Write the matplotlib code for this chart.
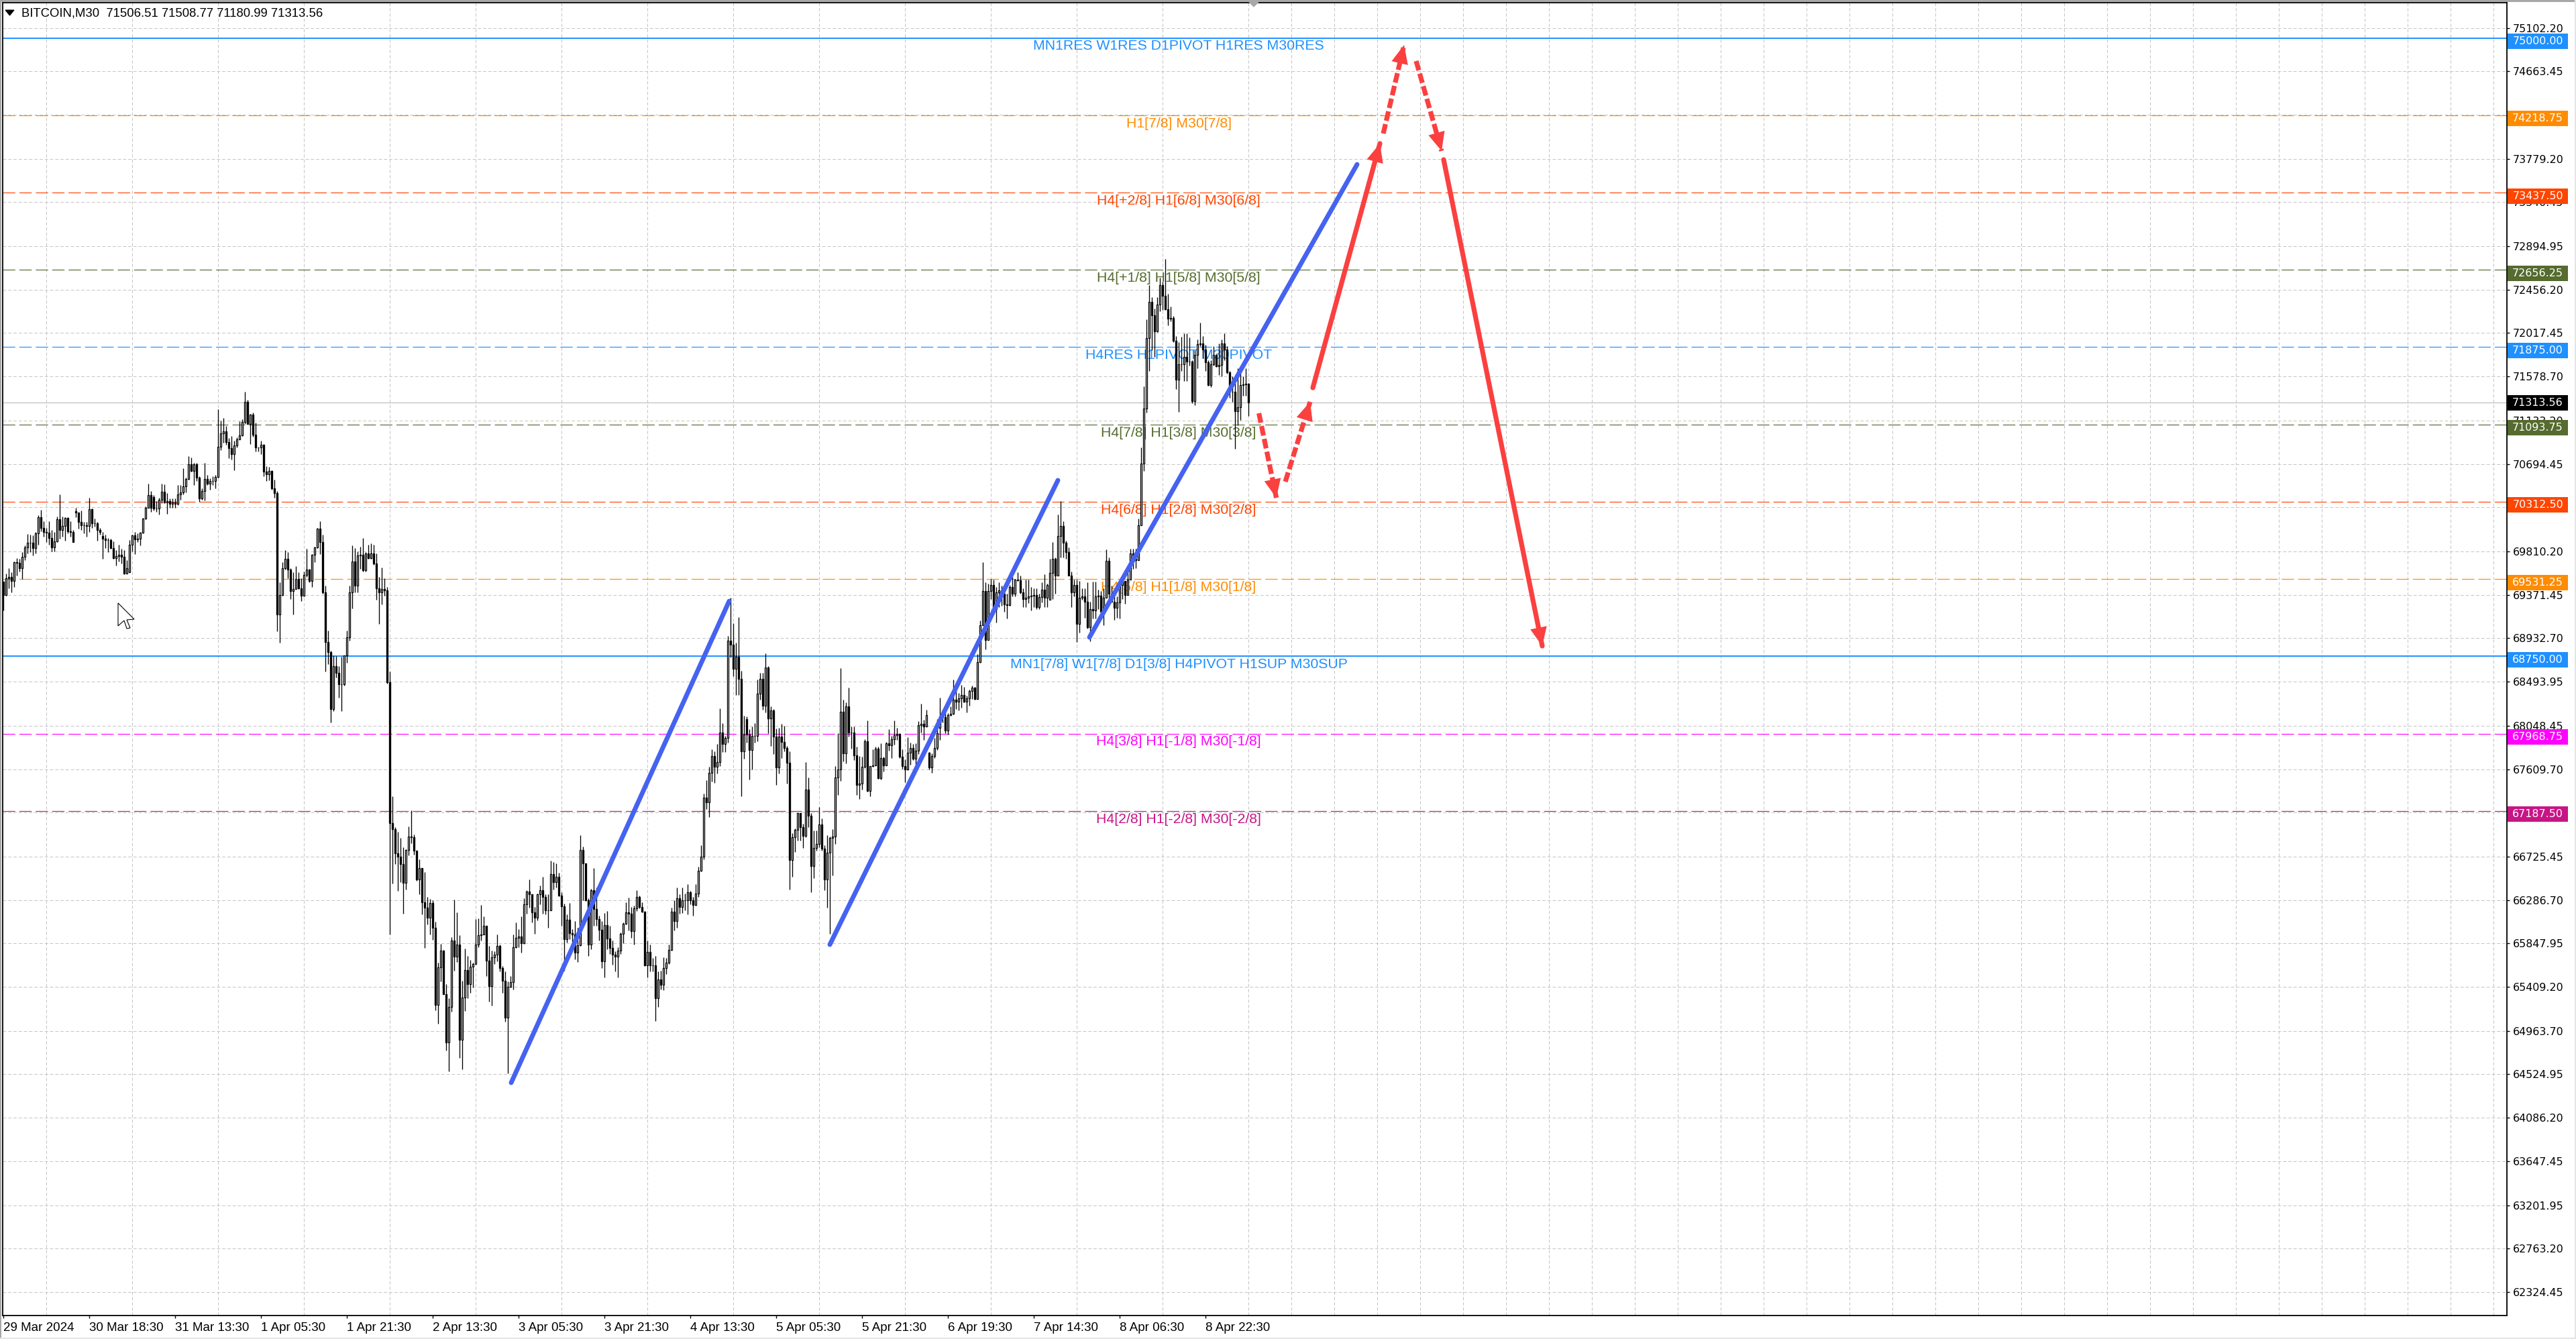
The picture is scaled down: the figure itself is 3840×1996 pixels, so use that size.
"""BITCOIN M30 candle chart with Murrey levels and hand drawn trend lines."""

import numpy as np
import matplotlib
matplotlib.use("Agg")
import matplotlib.pyplot as plt
from matplotlib.patches import Polygon, Rectangle

WIDTH, HEIGHT = 3840, 1996

highs = [
    69507,69586,69638,69598,69711,69745,69733,69801,69869,69986,
    69977,69971,70004,70174,70231,70118,70050,70113,70027,70004,
    70163,70384,70163,70158,70158,70118,70027,70253,70203,70224,
    70106,70106,70355,70242,70140,70106,70045,70004,69977,69948,
    69937,69914,69824,69880,69835,69824,69722,69925,69977,70004,
    69993,70004,70151,70264,70495,70423,70377,70321,70355,70495,
    70490,70400,70348,70348,70348,70479,70479,70649,70558,70773,
    70762,70705,70705,70569,70445,70705,70581,70551,70569,70581,
    71247,71134,71162,71078,70954,70976,70931,70965,71123,71146,
    71424,71342,71202,71214,71112,70863,70926,70897,70671,70664,
    70633,70536,70423,69496,69699,69824,69801,69643,69598,69661,
    69598,69541,69609,69835,69632,69783,69858,70050,70113,69977,
    69462,69010,68807,68762,68750,68649,68743,68762,69010,69462,
    69869,69846,69812,69858,69948,69801,69880,69892,69880,69790,
    69553,69647,69541,69451,68599,67333,67021,66976,66913,66822,
    66802,67028,67190,66949,66784,66698,66607,66569,66320,66298,
    66287,66067,65654,65841,65783,65434,65292,65914,66293,66162,
    65932,65473,65796,65721,65681,65654,66094,66099,66237,66124,
    66027,65823,65778,65767,65936,65835,65620,65563,65462,65518,
    65936,66061,65993,66121,66302,66388,66497,66343,66219,66354,
    66433,66524,66343,66343,66686,66671,66659,66562,66366,66253,
    66140,66257,65993,66072,66004,66942,66824,66659,66302,66399,
    66607,66415,66128,66072,66158,66178,66027,65880,65767,65812,
    65959,66061,66264,66309,66219,66230,66388,66332,66264,66174,
    65880,65835,65699,65721,65563,65575,65710,65699,65835,66207,
    66287,66411,66343,66411,66354,66445,66377,66320,66445,66625,
    66840,67360,67496,67631,67807,67789,67862,68223,68072,67948,
    68953,69342,69082,68886,69145,68603,68151,68140,68015,68038,
    68072,68513,68580,68580,68779,68648,68246,68219,68020,68027,
    68065,68049,67846,67789,66964,67010,67168,67168,67055,67681,
    67523,67168,66987,66987,67224,67111,66840,66942,66931,67003,
    67642,67970,68630,68309,68287,68433,68043,68038,67835,67744,
    67733,67914,68101,67642,67812,67835,67835,67868,67733,67884,
    68015,67948,68101,68027,67970,67812,67710,67929,67875,67862,
    67868,68094,68268,68106,68207,67785,67767,67925,68117,68332,
    68207,68174,68178,68241,68513,68456,68377,68463,68440,68354,
    68411,68456,68440,68772,69112,69699,69497,69483,69530,69525,
    69454,69497,69463,69454,69384,69468,69553,69530,69603,69567,
    69440,69525,69525,69454,69440,69440,69384,69497,69581,69483,
    69736,69904,69750,70185,70318,70115,69918,69848,69609,69525,
    69525,69511,69440,69440,69497,69300,69502,69502,69426,69412,
    69440,69828,69750,69463,69356,69356,69497,69525,69483,69623,
    69834,69834,69834,70143,70860,71478,72153,72504,72378,72266,
    72378,72575,72533,72766,72414,72285,72190,71984,71928,71979,
    72012,72012,71970,71745,71844,71956,72125,71984,71900,71745,
    71745,71886,71802,71914,71956,72012,71886,71633,71577,71521,
    71661,71619,71577,71661,71508.77,
]
lows = [
    69213,69360,69440,69399,69451,69564,69609,69530,69722,69790,
    69801,69772,69790,69876,70016,69959,69903,69880,69812,69812,
    69903,69937,69959,69919,69993,69959,69903,70158,70043,70027,
    69993,69959,70004,70050,70061,69919,69982,69738,69846,69801,
    69835,69733,69670,69711,69688,69580,69593,69598,69812,69785,
    69903,69873,69993,70136,70253,70208,70224,70212,70181,70298,
    70298,70192,70253,70253,70249,70280,70332,70389,70407,70536,
    70619,70479,70524,70310,70332,70325,70479,70434,70479,70445,
    70558,70836,70908,70886,70755,70739,70633,70863,70942,70976,
    71101,71096,70897,70972,70823,70818,70791,70570,70524,70529,
    70434,70355,69006,68886,69360,69625,69541,69327,69173,69428,
    69428,69308,69354,69553,69496,69451,69699,69846,69785,69383,
    68599,68671,68084,68196,68536,68332,68196,68456,68682,68908,
    69236,69394,69399,69632,69609,69609,69733,69733,69677,69320,
    69078,69277,69360,68472,65936,66456,66648,66381,66467,66151,
    66395,66739,66863,66745,66479,66343,66144,65801,66038,65936,
    65884,65172,65039,65462,65337,64768,64558,65157,65575,65658,
    64689,64576,65163,65292,65349,65405,65642,65812,65880,65936,
    65518,65258,65218,65642,65665,65563,65349,65059,64535,65405,
    65383,65801,65812,65755,65841,66151,66207,66061,65947,66083,
    66241,66151,66144,66008,66180,66393,66411,66325,66027,65575,
    65857,65891,65789,65688,65658,65823,66286,66275,65721,65789,
    66027,66027,65880,65602,65507,65789,65744,65631,65563,65502,
    65744,65850,66038,65981,65907,65839,66174,66203,66162,65620,
    65507,65563,65563,65066,65208,65383,65376,65541,65642,65773,
    65977,66008,66151,66158,66185,66144,66241,66128,66230,66316,
    66573,66700,67206,67123,67484,67468,67563,67643,67785,67785,
    67880,68739,68547,68359,68359,67333,67715,67880,67507,67609,
    67880,67891,68309,68207,68185,67970,67846,67762,67450,67563,
    67722,67789,67466,66393,66524,66772,66885,66885,66813,66919,
    67021,66366,66506,66784,66818,66784,66388,66207,65947,66535,
    66856,67349,67491,67688,67665,67936,67817,67699,67349,67310,
    67405,67620,67383,67333,67631,67665,67514,67507,67586,67649,
    67794,67722,67857,67902,67722,67613,67480,67597,67654,67699,
    67642,67762,67981,67907,68043,67604,67575,67722,67801,67907,
    68083,67970,67959,68151,68162,68219,68201,68230,68287,68185,
    68253,68320,68309,68320,68682,69061,68822,68912,69328,69187,
    69089,69244,69258,69201,69131,69258,69356,69356,69511,69384,
    69244,69244,69286,69216,69244,69230,69230,69294,69244,69244,
    69322,69328,69384,69567,69750,69750,69736,69567,69244,69356,
    68892,68991,69322,69137,69033,68901,69131,69131,69230,69201,
    69061,69342,69342,69300,69117,69137,69131,69328,69278,69370,
    69525,69637,69643,69792,70073,70627,71211,71633,71844,71774,
    72027,72237,72251,72251,72097,72139,71928,71450,71217,71633,
    71535,71535,71689,71310,71290,71661,71886,71760,71633,71484,
    71470,71689,71675,71591,71577,71745,71605,71366,71324,70846,
    71085,71141,71386,71380,71180.99,
]
closes = [
    69372,69541,69552,69512,69699,69693,69643,69756,69851,69896,
    69901,69846,69993,70158,70045,70004,70000,69948,69851,69914,
    70136,70027,70068,70149,70016,70004,69903,70201,70106,70077,
    70072,70070,70237,70095,70097,70027,70009,69941,69925,69925,
    69842,69745,69765,69779,69756,69586,69638,69880,69971,69930,
    69941,69998,70140,70253,70377,70253,70242,70242,70332,70411,
    70303,70321,70294,70305,70294,70384,70407,70468,70542,70689,
    70626,70689,70558,70348,70418,70542,70497,70524,70524,70565,
    70870,71003,71022,70913,70852,70795,70879,70942,70981,71116,
    71322,71101,71191,70988,70863,70859,70886,70619,70592,70626,
    70445,70400,69175,69367,69638,69733,69625,69412,69428,69530,
    69440,69360,69571,69625,69512,69779,69851,70043,69903,69394,
    68893,68795,68219,68653,68581,68468,68468,68762,68942,69394,
    69711,69462,69772,69779,69620,69790,69745,69790,69688,69440,
    69394,69428,69417,68490,67062,67005,66761,66727,66648,66463,
    66795,66926,66919,66788,66497,66607,66264,66212,66106,66259,
    66004,65224,65609,65778,65337,64845,65206,65875,65717,65835,
    64874,65299,65581,65439,65615,65642,65835,65929,65941,66027,
    65676,65416,65706,65733,65823,65602,65473,65100,65410,65457,
    65807,65902,65918,65853,66241,66372,66347,66162,66110,66343,
    66388,66320,66180,66185,66546,66467,66519,66332,66225,65891,
    66090,65954,65936,65755,65828,66790,66655,66286,65835,66388,
    66196,66094,65988,65669,66031,65896,65805,65737,65715,65778,
    65948,66045,66162,66151,65975,66203,66316,66214,66167,65627,
    65760,65624,65624,65297,65484,65428,65597,65654,65783,66167,
    66076,66302,66219,66286,66284,66366,66286,66239,66350,66580,
    66727,67319,67274,67570,67744,67636,67681,67977,67866,67925,
    68908,68870,68626,68745,68524,67789,67959,67959,67805,67948,
    67948,68370,68524,68253,68637,68124,68201,67936,67624,67936,
    67887,67823,67672,66693,66919,66998,67163,67025,66935,67401,
    67141,66632,66811,66856,67048,66806,66497,66766,66913,66931,
    67523,67604,68187,67771,68241,67981,67981,67749,67450,67466,
    67631,67891,67392,67638,67649,67817,67518,67722,67649,67868,
    67853,67909,67952,67966,67737,67642,67609,67774,67823,67715,
    67796,68054,68065,68043,68155,67624,67744,67823,67970,68140,
    68135,67997,68158,68169,68314,68293,68323,68359,68293,68325,
    68400,68433,68320,68689,69066,69412,68912,69412,69469,69230,
    69398,69418,69384,69272,69266,69454,69384,69525,69516,69398,
    69328,69342,69356,69362,69370,69244,69348,69426,69342,69468,
    69595,69736,69567,69969,70065,69896,69806,69567,69398,69468,
    69075,69342,69356,69300,69047,69230,69216,69356,69365,69201,
    69342,69713,69384,69300,69238,69294,69468,69511,69370,69525,
    69792,69736,69722,70073,70700,71254,71965,72330,72195,72032,
    72308,72504,72392,72257,72161,72167,71937,71549,71703,71703,
    71774,71731,71731,71332,71796,71908,71914,71852,71723,71492,
    71703,71796,71684,71698,71914,71852,71619,71422,71425,71225,
    71268,71492,71498,71504,71313.56,
]
# opens follow the previous close except where the chart shows a gap
first_open = 69507
open_gaps = {27: 70215, 37: 69964, 47: 69598, 56: 70362, 277: 68113,
             345: 67778, 349: 68027, 390: 69322, 464: 71506.51}

price_ticks = [
    75102.20, 74663.45, 74224.70, 73779.20, 73340.45, 72894.95, 72456.20,
    72017.45, 71578.70, 71133.20, 70694.45, 70255.70, 69810.20, 69371.45,
    68932.70, 68493.95, 68048.45, 67609.70, 67170.95, 66725.45, 66286.70,
    65847.95, 65409.20, 64963.70, 64524.95, 64086.20, 63647.45, 63201.95,
    62763.20, 62324.45,
]
time_labels = [
    "29 Mar 2024", "30 Mar 18:30", "31 Mar 13:30", "1 Apr 05:30", "1 Apr 21:30",
    "2 Apr 13:30", "3 Apr 05:30", "3 Apr 21:30", "4 Apr 13:30", "5 Apr 05:30",
    "5 Apr 21:30", "6 Apr 19:30", "7 Apr 14:30", "8 Apr 06:30", "8 Apr 22:30",
]

level_prices = [75000.00, 74218.75, 73437.50, 72656.25, 71875.00, 71093.75,
                70312.50, 69531.25, 68750.00, 67968.75, 67187.50]
level_colors = ["#1e90ff", "#ff8c00", "#ff4500", "#556b2f", "#1e90ff", "#556b2f",
                "#ff4500", "#ff8c00", "#1e90ff", "#ff00ff", "#c71585"]
level_texts = [
    "MN1RES W1RES D1PIVOT H1RES M30RES",
    "H1[7/8] M30[7/8]",
    "H4[+2/8] H1[6/8] M30[6/8]",
    "H4[+1/8] H1[5/8] M30[5/8]",
    "H4RES H1PIVOT M30PIVOT",
    "H4[7/8] H1[3/8] M30[3/8]",
    "H4[6/8] H1[2/8] M30[2/8]",
    "H4[5/8] H1[1/8] M30[1/8]",
    "MN1[7/8] W1[7/8] D1[3/8] H4PIVOT H1SUP M30SUP",
    "H4[3/8] H1[-1/8] M30[-1/8]",
    "H4[2/8] H1[-2/8] M30[-2/8]",
]
solid_levels = [75000.00, 68750.00]
last_price = 71313.56

# (bar, price) end points of the drawn objects
trend_lines = [
    ((189.25, 64440), (270.5, 69308)),
    ((308.0, 65836), (393.0, 70529)),
    ((404.75, 68942), (504.5, 73722)),
]
arrows = [
    ((467.9, 71207), (474.4, 70352), True),
    ((477.75, 70515), (487.0, 71322), True),
    ((488.0, 71464), (513.0, 73933), False),
    ((514.25, 74034), (522.0, 74929), True),
    ((526.5, 74767), (536.0, 73858), True),
    ((536.75, 73770), (573.5, 68854), False),
]


def px(x, y):
    """Screen pixel to figure fraction."""
    return x / WIDTH, 1 - y / HEIGHT


def draw_chrome(fig):
    for x, y, w, h, color in [(0, 0, 3840, 3, "#a8a8a8"), (0, 0, 2, 1996, "#a8a8a8"),
                              (3838, 0, 2, 1996, "#e4e4e4"), (0, 1994, 3840, 2, "#e4e4e4")]:
        fx, fy = px(x, y + h)
        fig.add_artist(Rectangle((fx, fy), w / WIDTH, h / HEIGHT, transform=fig.transFigure,
                                 fc=color, ec="none"))
    shapes = [
        ([(8, 15), (21, 15), (14.5, 23)], "black", "black"),
        ([(1862, 3), (1876, 3), (1869, 10)], "#a8a8a8", "#a8a8a8"),
        ([(176, 899), (200, 923), (189, 924), (194, 936), (189, 937), (185, 925), (176, 933)],
         "white", "black"),
    ]
    for points, face, edge in shapes:
        fig.add_artist(Polygon([px(*p) for p in points], closed=True, transform=fig.transFigure,
                               fc=face, ec=edge, lw=0.8))
    fx, fy = px(32, 20)
    fig.text(fx, fy, "BITCOIN,M30  71506.51 71508.77 71180.99 71313.56", fontsize=13.3,
             family="Liberation Sans", va="center", ha="left", color="black")


def main():
    fig = plt.figure(figsize=(WIDTH / 100, HEIGHT / 100), dpi=100, facecolor="white")
    left, bottom = px(4, 1961)
    ax = fig.add_axes([left, bottom, (3737 - 4) / WIDTH, (1961 - 4) / HEIGHT])
    ax.set_xlim(-0.25, 933)
    ax.set_ylim(62087, 75356.5)

    # grid
    ax.set_axisbelow(True)
    ax.set_xticks(np.arange(0, len(time_labels)) * 32)
    ax.set_xticklabels(time_labels, ha="left", family="Liberation Sans", fontsize=13.5)
    ax.set_xticks(np.arange(16, 933, 16), minor=True)
    ax.tick_params(axis="x", which="major", length=3, width=1, pad=4)
    ax.tick_params(axis="x", which="minor", length=0)
    ax.grid(True, axis="x", which="minor", color="#c4c4c4", lw=0.7, ls=(0, (5, 3)))
    ax.yaxis.tick_right()
    ax.set_yticks(price_ticks)
    ax.set_yticklabels([f"{p:.2f}" for p in price_ticks], fontsize=11.4)
    ax.tick_params(axis="y", length=3, width=1, pad=3.4)
    ax.grid(True, axis="y", which="major", color="#c4c4c4", lw=0.7, ls=(0, (5, 3)))
    for spine in ax.spines.values():
        spine.set_linewidth(1.3)

    # levels and their captions
    tag_w = 90 / 3733
    for price, color, text in zip(level_prices, level_colors, level_texts):
        if price in solid_levels:
            ax.axhline(price, color=color, lw=1.4, zorder=2)
        else:
            ax.axhline(price, color=color, lw=0.85, ls=(0, (15.5, 5.2)), zorder=2)
        ax.text(438, price - 84, text, color=color, fontsize=15.3, family="Liberation Sans",
                ha="center", va="center", zorder=2.2)
        ax.add_patch(Rectangle((1.0003, price - 34 - 78), tag_w, 156, fc=color, ec="none",
                               transform=ax.get_yaxis_transform(), clip_on=False, zorder=10))
        ax.text(1.0003 + tag_w / 2, price - 34, f"{price:.2f}", color="white", fontsize=11.4,
                ha="center", va="center", transform=ax.get_yaxis_transform(), zorder=11)
    ax.axhline(last_price, color="#c4c4c4", lw=1.0, zorder=1.8)
    ax.add_patch(Rectangle((1.0003, last_price - 78), tag_w, 156, fc="black", ec="none",
                           transform=ax.get_yaxis_transform(), clip_on=False, zorder=10))
    ax.text(1.0003 + tag_w / 2, last_price, f"{last_price:.2f}", color="white", fontsize=11.4,
            ha="center", va="center", transform=ax.get_yaxis_transform(), zorder=11)

    # candles
    bars = np.arange(len(closes))
    opens = [first_open] + closes[:-1]
    for k, value in open_gaps.items():
        opens[k] = value
    opens = np.array(opens, dtype=float)
    shut = np.array(closes, dtype=float)
    ax.vlines(bars, lows, highs, color="black", lw=0.95, zorder=3)
    faces = ["white" if c >= o else "black" for o, c in zip(opens, shut)]
    ax.bar(bars, np.abs(shut - opens), bottom=np.minimum(opens, shut), width=0.62,
           color=faces, edgecolor="black", lw=0.95, zorder=3.2)

    # drawn objects
    for start, end in trend_lines:
        ax.plot([start[0], end[0]], [start[1], end[1]], color="#4562f0", lw=5.0,
                solid_capstyle="round", zorder=5)
    for start, end, dashed in arrows:
        style = (0, (2.0, 0.7)) if dashed else "-"
        ax.plot([start[0], end[0]], [start[1], end[1]], color="#fb4040", lw=5.2, ls=style,
                solid_capstyle="round", dash_capstyle="butt", zorder=5)
        ax.annotate("", xy=end, xytext=start, zorder=5.5,
                    arrowprops=dict(arrowstyle="-|>,head_length=1.0,head_width=0.45",
                                    mutation_scale=20, color="#fb4040", lw=0,
                                    shrinkA=0, shrinkB=0))

    draw_chrome(fig)
    fig.savefig("out.png", dpi=100)


if __name__ == "__main__":
    main()
